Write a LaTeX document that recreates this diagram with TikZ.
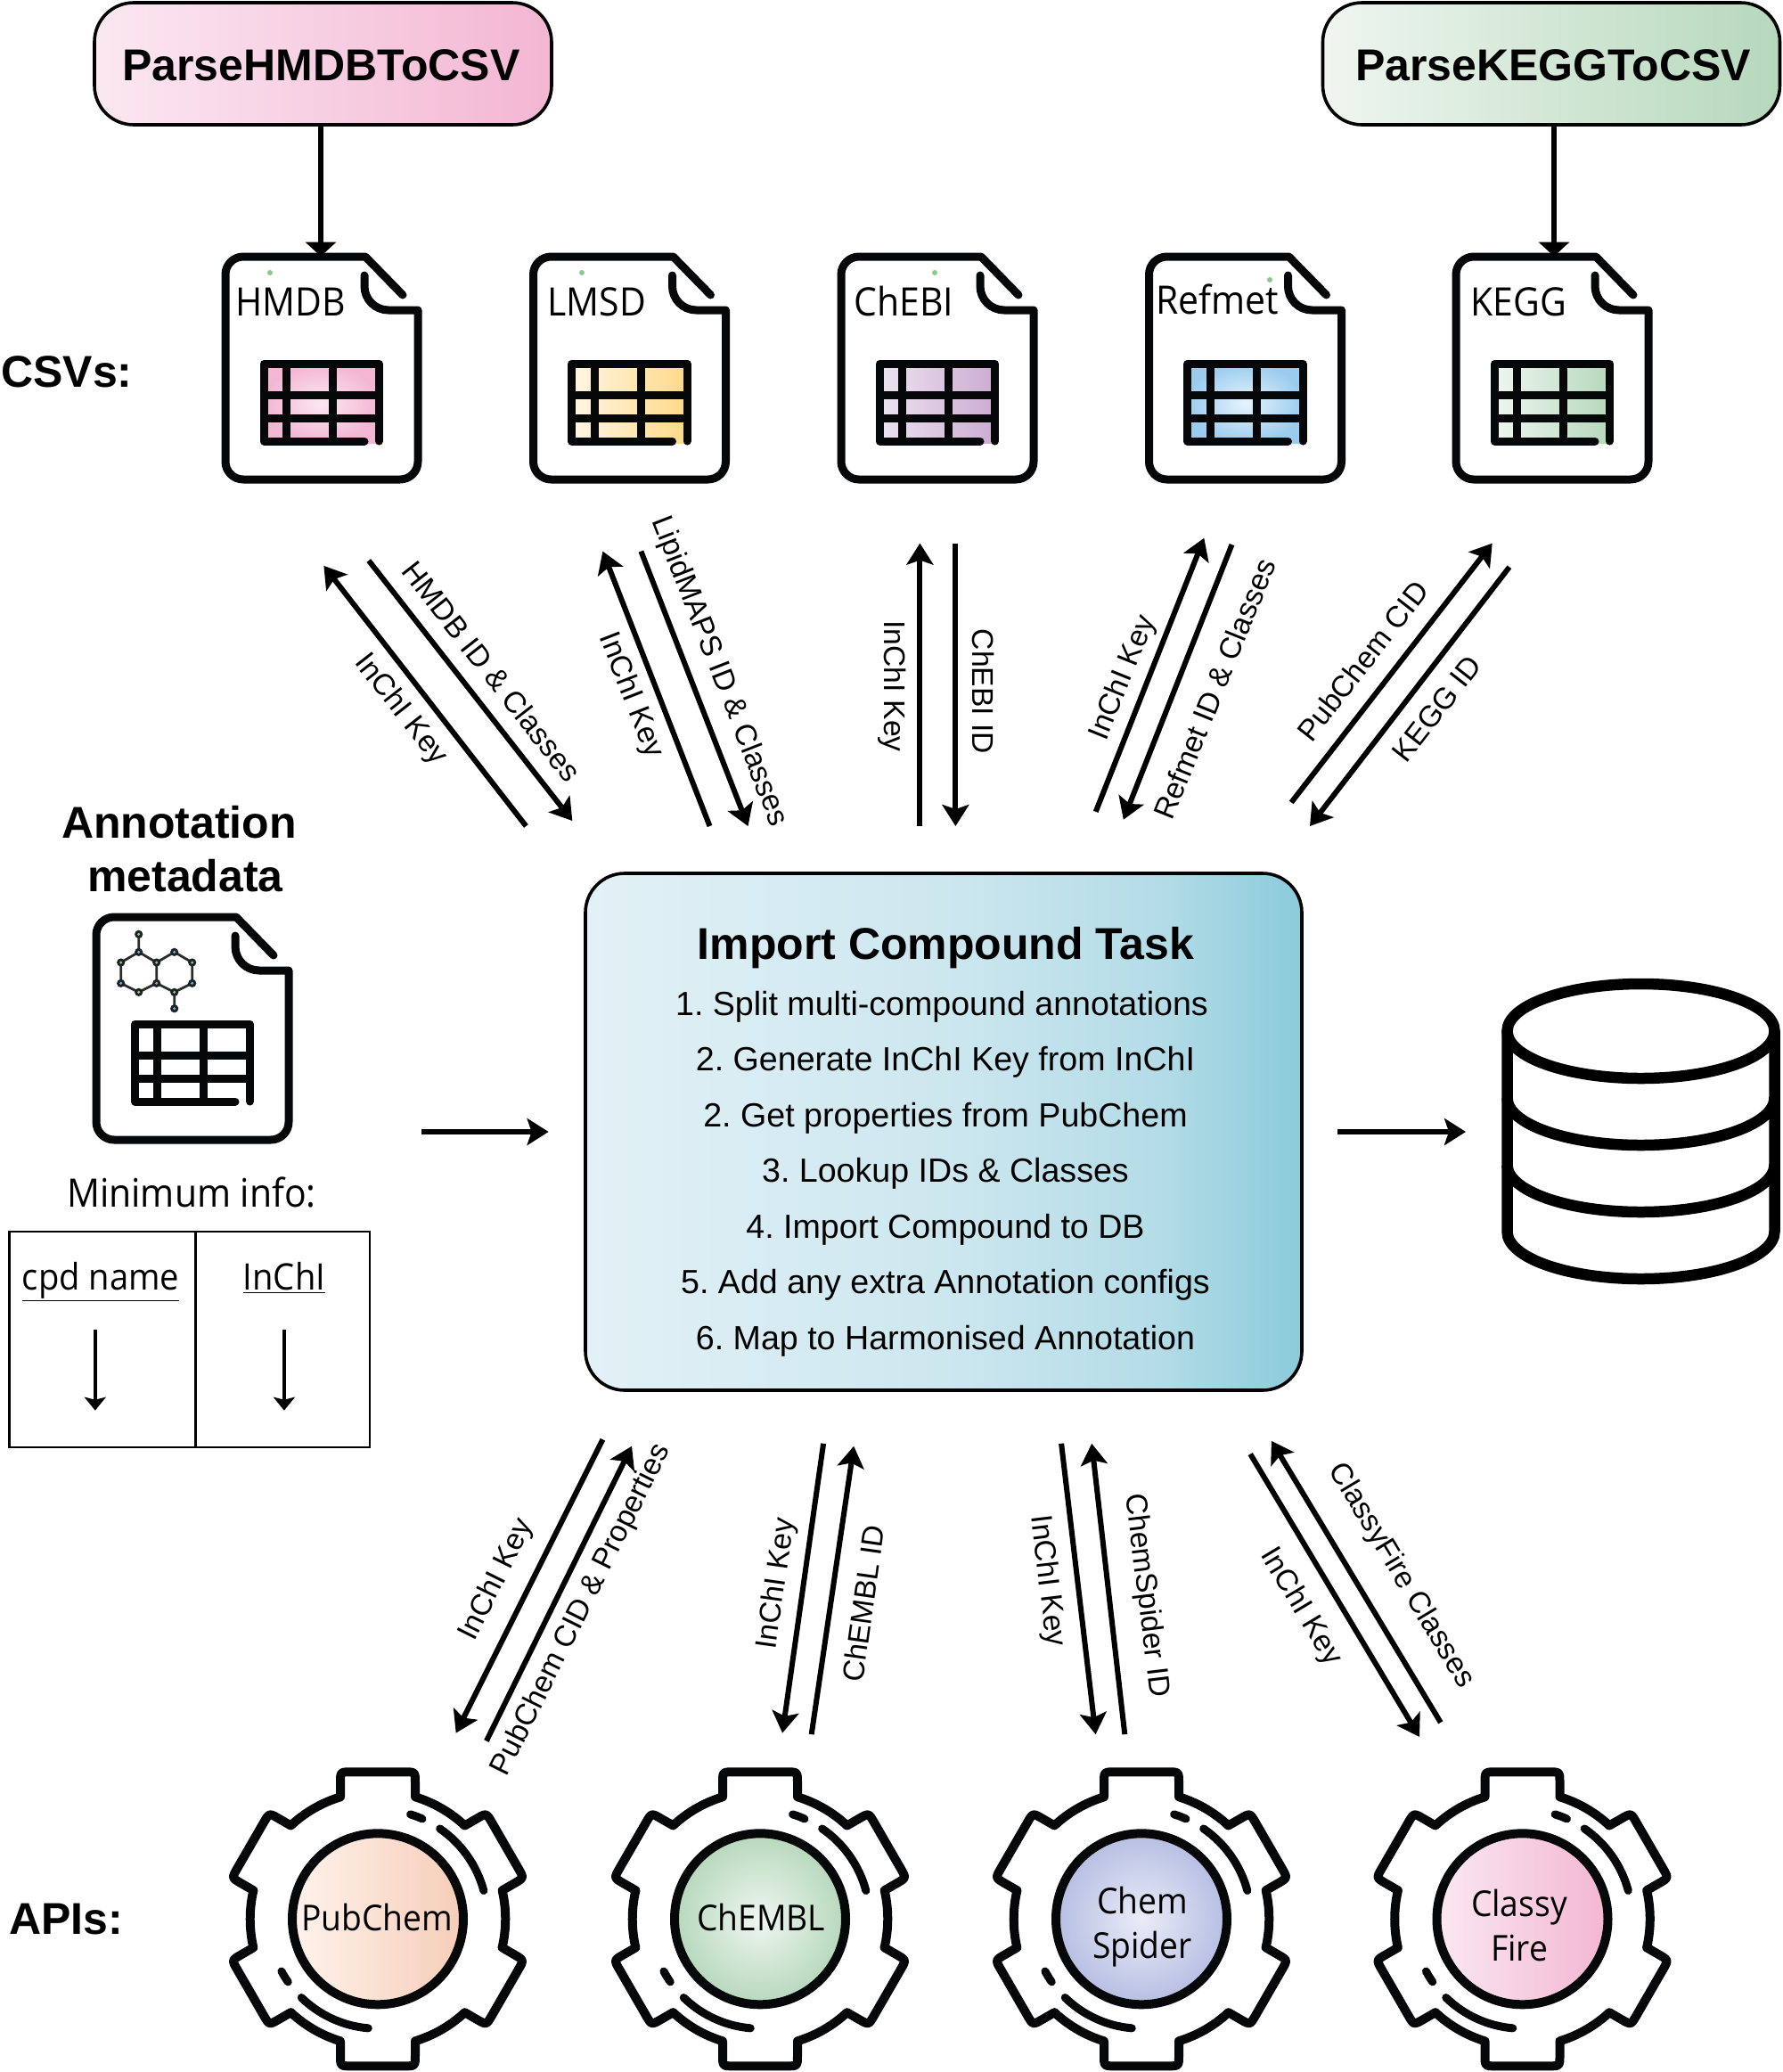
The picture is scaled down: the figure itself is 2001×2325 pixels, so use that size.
\documentclass[tikz,border=0pt]{standalone}
\usepackage{fontspec}
\setmainfont{Liberation Sans}
\newfontfamily\myr[FakeStretch=0.93]{Open Sans}
\usetikzlibrary{arrows.meta}
\frenchspacing
\definecolor{tA}{HTML}{E2F1F6}
\definecolor{tB}{HTML}{CDE7EF}
\definecolor{tC}{HTML}{B4DCE7}
\definecolor{tD}{HTML}{8ACBDA}
\definecolor{pinkL}{HTML}{FBE8F1}
\definecolor{pinkD}{HTML}{F3B6D3}
\definecolor{greenL}{HTML}{EFF6F0}
\definecolor{greenD}{HTML}{B6D8BC}
\definecolor{yelL}{HTML}{FFF6E6}
\definecolor{yelD}{HTML}{FFD987}
\definecolor{purL}{HTML}{EDE3F0}
\definecolor{purD}{HTML}{CBACD1}
\definecolor{bluL}{HTML}{E6F4FC}
\definecolor{bluD}{HTML}{9BCCEE}
\definecolor{pubL}{HTML}{FFF3EC}
\definecolor{pubD}{HTML}{F6CDB8}
\definecolor{spiL}{HTML}{E9ECF8}
\definecolor{spiD}{HTML}{B6BEE2}
\definecolor{dotG}{HTML}{8CC98F}
\definecolor{dotB}{HTML}{55B5E8}
\definecolor{ink}{HTML}{060708}
\pgfdeclarehorizontalshading{taskshade}{100bp}{color(0bp)=(tA);color(25bp)=(tA);color(50bp)=(tB);color(65bp)=(tC);color(75bp)=(tD);color(100bp)=(tD)}
\tikzset{
  boldtext/.style={font=\fontsize{25}{30}\selectfont\bfseries,inner sep=0pt},
  parsebox/.style={draw=black,line width=1.8pt,rounded corners=22pt,minimum width=256.5pt,minimum height=68.5pt,inner sep=0pt},
  parsetext/.style={boldtext,anchor=base},
  taskbox/.style={draw=black,line width=1.8pt,rounded corners=22pt,minimum width=402pt,minimum height=290pt,inner sep=0pt},
  steptext/.style={font=\fontsize{18.8}{22}\selectfont,anchor=base,inner sep=0pt},
  flowlabel/.style={font=\fontsize{16.8}{21}\selectfont,inner sep=0pt},
  icontext/.style={font=\myr\fontsize{22}{25}\selectfont,inner sep=0pt},
  cellhead/.style={font=\myr\fontsize{20.5}{25}\selectfont,inner sep=0pt,anchor=base},
  icongear/.style={font=\myr\fontsize{20}{25}\selectfont,inner sep=0pt,align=center},
  flow/.style={line width=3pt,-{Stealth[length=12pt,width=15pt,inset=2.5pt]}},
  bigflow/.style={line width=3pt,-{Triangle[length=8pt,width=17pt]}},
  smallflow/.style={line width=2pt,-{Stealth[length=7.5pt,width=12pt,inset=1.5pt]}},
  heavy/.style={line width=4.5pt,line cap=round,line join=round,draw=ink},
  gearline/.style={line width=5pt,line cap=round,line join=round,draw=ink},
  docbound/.style={inner sep=0pt,minimum width=108pt,minimum height=125pt},
  stray/.style={fill=dotG},
}
\newcommand{\docicon}[3]{%
\begin{scope}[shift={(#1,#2)}]
  \path[#3] (43.3,120) rectangle (172.5,209);
  \draw[heavy] (199,43) -- (157,0) -- (20,0) .. controls (9,0) and (0,9) .. (0,20) -- (0,230) .. controls (0,241) and (9,250) .. (20,250) -- (196,250) .. controls (207,250) and (216,241) .. (216,230) -- (216,60) -- (183,60) .. controls (168,60) and (156,48) .. (156,33) -- (156,21);
  \draw[heavy] (156,207) -- (43.3,207) -- (43.3,120) -- (172.5,120) -- (172.5,207);
  \draw[heavy,line cap=butt] (68.5,120) -- (68.5,207) (120.5,120) -- (120.5,207) (43.3,155) -- (172.5,155) (43.3,181) -- (172.5,181);
\end{scope}}
\newcommand{\gearicon}[3]{%
\begin{scope}[shift={(#1,#2)},x=0.5pt,y=0.5pt]
  \draw[gearline] ([rotate=90]137,42)
   \foreach \a [evaluate=\a as \b using \a-17.07, evaluate=\a as \e using \a-42.93] in {90,30,-30,-90,-150,-210}{
     -- ([rotate=\a]137,42) -- ([rotate=\a]153,42) .. controls ([rotate=\a]165,42) .. ([rotate=\a]165,30)
     -- ([rotate=\a]165,-30) .. controls ([rotate=\a]165,-42) .. ([rotate=\a]153,-42) -- ([rotate=\a]137,-42)
     arc[start angle=\b,end angle=\e,radius=143]
   } -- cycle;
  \draw[heavy] (72.7:123) arc[start angle=72.7,end angle=66,radius=123];
  \draw[heavy] (55.5:123) arc[start angle=55.5,end angle=15,radius=123];
  \draw[heavy] (208.5:123) arc[start angle=208.5,end angle=215,radius=123];
  \draw[heavy] (225.8:123) arc[start angle=225.8,end angle=265,radius=123];
  \path[#3] (0,0) circle[radius=96];
  \draw[line width=5pt,draw=ink] (0,0) circle[radius=96];
\end{scope}}
\begin{document}
\begin{tikzpicture}[x=0.5pt,y=-0.5pt]
\useasboundingbox (0,0) rectangle (2001,2325);
\fill[white] (0,0) rectangle (2001,2325);

% parse boxes
\node[parsebox,left color=pinkL,right color=pinkD] (parseHMDB) at (362.5,71.5) {};
\node[parsebox,left color=greenL,right color=greenD] (parseKEGG) at (1741,71.5) {};
\node[parsetext] (parseHMDBt) at (360.5,90) {ParseHMDBToCSV};
\node[parsetext] (parseKEGGt) at (1743,90) {ParseKEGGToCSV};

% section labels
\node[boldtext,anchor=base west] (csvs) at (1,434.5) {CSVs:};
\node[boldtext,anchor=base west] (apis) at (10,2170) {APIs:};
\node[boldtext,anchor=base] (annot1) at (201,940) {Annotation};
\node[boldtext,anchor=base] (annot2) at (208,1000) {metadata};

% file icons
\docicon{253}{288}{shade,inner color=pinkL,outer color=pinkD}
\docicon{598.5}{288}{left color=yelL,right color=yelD,shade}
\docicon{944}{288}{left color=purL,right color=purD,shade}
\docicon{1289.5}{288}{shade,inner color=bluL,outer color=bluD}
\docicon{1634}{288}{left color=greenL,right color=greenD,shade}
\docicon{108}{1029}{fill=white}
\node[docbound] (docHMDB) at (360,413) {};
\node[docbound] (docKEGG) at (1744,413) {};
\fill[stray] (303,306) circle[radius=3];
\fill[stray] (653,306) circle[radius=3];
\fill[stray] (1049,306) circle[radius=3];
\fill[stray] (1425,314) circle[radius=3];
\node[icontext,anchor=base west] (lblHMDB) at (264,354) {HMDB};
\node[icontext,anchor=base west] (lblLMSD) at (614,354) {LMSD};
\node[icontext,anchor=base west] (lblChEBI) at (958,354) {ChEBI};
\node[icontext,anchor=base west] (lblRefmet) at (1297,352) {Refmet};
\node[icontext,anchor=base west] (lblKEGG) at (1650,354) {KEGG};

% molecule
\foreach \n/\x/\y in {1/155.7/1048.3,2/155.7/1068.3,3/135.7/1080,4/135.7/1103.3,5/155.7/1113.3,6/175.7/1103.3,7/175.7/1080,8/195.7/1068.3,9/215.7/1080,10/215.7/1103.3,11/195.7/1113.3,12/195.7/1131.7}{\coordinate (m\n) at (\x,\y);}
\draw[line width=1.4pt,draw=ink!85] (m1)--(m2)--(m3)--(m4)--(m5)--(m6)--(m7)--(m2) (m7)--(m8)--(m9)--(m10)--(m11)--(m6) (m11)--(m12);
\foreach \n/\c in {1/dotG,2/dotB,3/dotG,4/dotB,5/dotG,6/dotB,7/dotG,8/dotB,9/dotG,10/dotB,11/dotG,12/dotB}{
  \fill[ink!90] (m\n) circle[radius=4.6];
  \fill[\c] (m\n) circle[radius=1.7];
}

% minimum info table
\node[icontext,anchor=base] (minfo) at (215,1354) {Minimum info:};
\draw[line width=1.1pt] (10.5,1382) rectangle (415,1624);
\draw[line width=1.1pt] (219.5,1382) -- (219.5,1624);
\node[cellhead] (cpd) at (113,1447) {\underline{cpd name}};
\node[cellhead] (inchihead) at (319,1447) {\underline{InChI}};
\coordinate (tA1) at (106.8,1492); \coordinate (tA2) at (106.8,1582.7);
\coordinate (tB1) at (318.9,1492); \coordinate (tB2) at (318.9,1582.7);
\draw[smallflow] (tA1) -- (tA2);
\draw[smallflow] (tB1) -- (tB2);

% task box
\node[taskbox,shading=taskshade] (task) at (1059,1270) {};
\node[boldtext,anchor=base] (taskT) at (1061.5,1076) {Import Compound Task};
\node[steptext] (s1) at (1057,1139) {1. Split multi-compound annotations};
\node[steptext] (s2) at (1061,1201.5) {2. Generate InChI Key from InChI};
\node[steptext] (s3) at (1061,1264) {2. Get properties from PubChem};
\node[steptext] (s4) at (1061,1326.5) {3. Lookup IDs \& Classes};
\node[steptext] (s5) at (1061,1389) {4. Import Compound to DB};
\node[steptext] (s6) at (1061,1451.5) {5. Add any extra Annotation configs};
\node[steptext] (s7) at (1061,1514) {6. Map to Harmonised Annotation};

% database
\node[inner sep=0pt,minimum width=150pt,minimum height=166pt] (db) at (1841.5,1269) {};
\draw[line width=6.25pt,draw=black] (1691.5,1157) -- (1691.5,1382) .. controls (1691.5,1411.3) and (1758.7,1435) .. (1841.5,1435) .. controls (1924.3,1435) and (1991.5,1411.3) .. (1991.5,1382) -- (1991.5,1157);
\draw[line width=6.25pt,draw=black] (1841.5,1157) ellipse[x radius=150,y radius=53];
\foreach \yy in {1232,1307}{
  \draw[line width=6.25pt,draw=black] (1691.5,\yy) .. controls (1691.5,\yy+29.3) and (1758.7,\yy+53) .. (1841.5,\yy+53) .. controls (1924.3,\yy+53) and (1991.5,\yy+29.3) .. (1991.5,\yy);
}

% connectors top
\draw[bigflow] (parseHMDB.south -| docHMDB.north) -- (docHMDB.north);
\draw[bigflow] (parseKEGG.south -| docKEGG.north) -- (docKEGG.north);
\coordinate (c1a) at (590.4,927);   \coordinate (c1b) at (363.4,634.9);
\coordinate (c2a) at (413.8,629);   \coordinate (c2b) at (642.3,921);
\coordinate (c3a) at (796.5,927);   \coordinate (c3b) at (676.4,618.6);
\coordinate (c4a) at (719.4,618.6); \coordinate (c4b) at (839.5,927);
\coordinate (c5a) at (1032.4,927);  \coordinate (c5b) at (1032.4,609.6);
\coordinate (c6a) at (1072.4,609.6);\coordinate (c6b) at (1072.4,927);
\coordinate (c7a) at (1229.7,910.8);\coordinate (c7b) at (1351.3,603.7);
\coordinate (c8a) at (1382.5,611.1);\coordinate (c8b) at (1260.8,919.7);
\coordinate (c9a) at (1449.2,900.4);\coordinate (c9b) at (1674.7,609.6);
\coordinate (c10a) at (1693.9,636.3);\coordinate (c10b) at (1470,927);
\foreach \i in {1,...,10}{\draw[flow] (c\i a) -- (c\i b);}
\node[flowlabel,rotate=-52] (l1) at (449.4,796.5) {InChI Key};
\node[flowlabel,rotate=-52] (l2) at (551.8,753.5) {HMDB ID \& Classes};
\node[flowlabel,rotate=-68.7] (l3) at (707.5,780.2) {InChI Key};
\node[flowlabel,rotate=-68.7] (l4) at (806.9,753.5) {LipidMAPS ID \& Classes};
\node[flowlabel,rotate=-90] (l5) at (1001.2,769.8) {InChI Key};
\node[flowlabel,rotate=-90] (l6) at (1103.6,775.8) {ChEBI ID};
\node[flowlabel,rotate=68] (l7) at (1260.8,760.9) {InChI Key};
\node[flowlabel,rotate=68] (l8) at (1363.1,772.8) {Refmet ID \& Classes};
\node[flowlabel,rotate=52] (l9) at (1529.3,741.6) {PubChem CID};
\node[flowlabel,rotate=52] (l10) at (1612.4,795) {KEGG ID};

% middle connectors
\coordinate (metaR) at (473,1270);
\draw[flow] (metaR) -- (615.6,1270) coordinate (taskL);
\coordinate (taskR) at (1501,1270);
\draw[flow] (taskR) -- (1645,1270) coordinate (dbL);

% connectors bottom
\coordinate (d1a) at (676.4,1615.3); \coordinate (d1b) at (511.7,1944.6);
\coordinate (d2a) at (545.9,1953.5); \coordinate (d2b) at (709,1622.7);
\coordinate (d3a) at (924.1,1619.8); \coordinate (d3b) at (878.1,1944.6);
\coordinate (d4a) at (910.7,1946.1); \coordinate (d4b) at (958.2,1622.7);
\coordinate (d5a) at (1191.1,1619.8);\coordinate (d5b) at (1229.6,1946.1);
\coordinate (d6a) at (1262.3,1946.1);\coordinate (d6b) at (1225.2,1619.8);
\coordinate (d7a) at (1403.2,1631.6);\coordinate (d7b) at (1593,1949);
\coordinate (d8a) at (1616.8,1932.8);\coordinate (d8b) at (1426.9,1616.8);
\foreach \i in {1,...,8}{\draw[flow] (d\i a) -- (d\i b);}
\node[flowlabel,rotate=63.5] (b1) at (557.7,1772.6) {InChI Key};
\node[flowlabel,rotate=63.5] (b2) at (652.6,1806.6) {PubChem CID \& Properties};
\node[flowlabel,rotate=82] (b3) at (872.2,1777) {InChI Key};
\node[flowlabel,rotate=82] (b4) at (968.6,1799.2) {ChEMBL ID};
\node[flowlabel,rotate=-83] (b5) at (1174.8,1774) {InChI Key};
\node[flowlabel,rotate=-83] (b6) at (1286,1790.4) {ChemSpider ID};
\node[flowlabel,rotate=-59] (b7) at (1459.6,1803.7) {InChI Key};
\node[flowlabel,rotate=-59] (b8) at (1572.3,1768.1) {ClassyFire Classes};

% gears
\gearicon{424}{2153.3}{left color=pubL,right color=pubD,shade}
\gearicon{853}{2153.3}{shade,inner color=greenL,outer color=greenD}
\gearicon{1281}{2153.3}{shade,inner color=spiL,outer color=spiD}
\gearicon{1708.5}{2153.3}{left color=pinkL,right color=pinkD,shade}
\node[icongear,anchor=base] (gPub) at (423,2166) {PubChem};
\node[icongear,anchor=base] (gChe) at (854,2166) {ChEMBL};
\node[icongear] (gSpi) at (1282,2162) {Chem\\Spider};
\node[icongear] (gCla) at (1705,2160) {Classy\\Fire};
\end{tikzpicture}
\end{document}
